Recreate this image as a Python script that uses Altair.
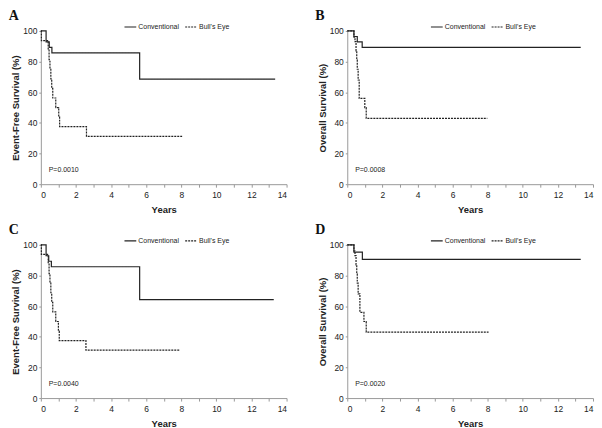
import altair as alt
import pandas as pd

groups = ["Conventional", "Bull's Eye"]

# Panel A: event-free survival
a_conv_t = [0, 0.30, 0.48, 0.63, 5.63, 13.35]
a_conv_s = [100, 92.9, 89.3, 85.7, 68.6, 68.6]
a_be_t = [0, 0.03, 0.42, 0.47, 0.52, 0.57, 0.62, 0.68, 0.85, 1.02, 1.07, 2.6, 8.05]
a_be_s = [100, 93.75, 87.5, 81.25, 75, 68.75, 62.5, 56.25, 50, 43.75, 37.5, 31.25, 31.25]

# Panel B: overall survival
b_conv_t = [0, 0.38, 0.57, 0.85, 13.3]
b_conv_s = [100, 96.4, 92.9, 89.3, 89.3]
b_be_t = [0, 0.38, 0.44, 0.5, 0.54, 0.57, 0.62, 0.68, 1.0, 1.08, 7.98]
b_be_s = [100, 96, 93, 87, 81, 75, 68, 56, 50, 43, 43]

# Panel C: event-free survival
c_conv_t = [0, 0.30, 0.45, 0.6, 5.63, 13.27]
c_conv_s = [100, 92.9, 89.3, 85.7, 64.3, 64.3]
c_be_t = [0, 0.03, 0.42, 0.47, 0.52, 0.57, 0.62, 0.68, 0.85, 1.0, 1.05, 2.57, 7.9]
c_be_s = [100, 93.75, 87.5, 81.25, 75, 68.75, 62.5, 56.25, 50, 43.75, 37.5, 31.25, 31.25]

# Panel D: overall survival
d_conv_t = [0, 0.38, 0.86, 13.3]
d_conv_s = [100, 95.2, 90.5, 90.5]
d_be_t = [0, 0.38, 0.44, 0.5, 0.54, 0.57, 0.62, 0.72, 0.95, 1.08, 8.05]
d_be_s = [100, 96, 93, 87, 81, 75, 68, 56, 50, 43, 43]

letters = ["A", "B", "C", "D"]
y_titles = ["Event-Free Survival (%)", "Overall Survival (%)",
            "Event-Free Survival (%)", "Overall Survival (%)"]
p_values = ["P=0.0010", "P=0.0008", "P=0.0040", "P=0.0020"]
p_anchor_t = [0.45]
p_anchor_s = [9]
x_ticks = list(range(15))
y_ticks = [0, 20, 40, 60, 80, 100]

FONT = "Liberation Sans"
INK = "#222222"


def make_panel(letter, ytitle, pval, ct, cs, bt, bs):
    df = pd.concat([
        pd.DataFrame({"t": ct, "s": cs, "group": groups[0]}),
        pd.DataFrame({"t": bt, "s": bs, "group": groups[1]}),
    ])
    x_enc = alt.X("t:Q", scale=alt.Scale(domain=[0, 14], nice=False),
                  axis=alt.Axis(title="Years", values=x_ticks, labelOverlap=False,
                                labelExpr="datum.value % 2 == 0 ? datum.label : ''",
                                tickSize=3, labelPadding=3, titlePadding=6, titleFontSize=9.5))
    y_enc = alt.Y("s:Q", scale=alt.Scale(domain=[0, 100], nice=False),
                  axis=alt.Axis(title=ytitle, values=y_ticks, labelOverlap=False,
                                tickSize=2, labelPadding=2, titlePadding=2))
    lines = alt.Chart(df).mark_line(interpolate="step-after", strokeWidth=1.2, color=INK).encode(
        x=x_enc,
        y=y_enc,
        strokeDash=alt.StrokeDash(
            "group:N",
            scale=alt.Scale(domain=groups, range=[[1, 0], [2, 1]]),
            legend=alt.Legend(orient="none", legendX=83, legendY=-11, direction="horizontal",
                              title=None, symbolType="stroke", symbolStrokeColor=INK,
                              symbolStrokeWidth=1.2, symbolSize=140, labelFontSize=7,
                              labelFont=FONT, labelColor=INK,
                              columnPadding=3, labelOffset=1),
        ),
        detail="group:N",
    )
    ptext = alt.Chart(pd.DataFrame({"t": p_anchor_t, "s": p_anchor_s, "label": [pval]})).mark_text(
        align="left", baseline="middle", fontSize=7, font=FONT, color=INK
    ).encode(x=x_enc, y=y_enc, text="label:N")
    return alt.layer(lines, ptext).properties(
        width=247, height=154,
        title=alt.TitleParams(letter, anchor="start", font="Liberation Serif", fontSize=14,
                              fontWeight="bold", color="#111111", offset=-3, dx=-2),
    )


panels = [
    make_panel(letters[0], y_titles[0], p_values[0], a_conv_t, a_conv_s, a_be_t, a_be_s),
    make_panel(letters[1], y_titles[1], p_values[1], b_conv_t, b_conv_s, b_be_t, b_be_s),
    make_panel(letters[2], y_titles[2], p_values[2], c_conv_t, c_conv_s, c_be_t, c_be_s),
    make_panel(letters[3], y_titles[3], p_values[3], d_conv_t, d_conv_s, d_be_t, d_be_s),
]

chart = alt.vconcat(
    alt.hconcat(panels[0], panels[1], spacing=27).resolve_legend(strokeDash="independent").resolve_scale(strokeDash="independent"),
    alt.hconcat(panels[2], panels[3], spacing=27).resolve_legend(strokeDash="independent").resolve_scale(strokeDash="independent"),
    spacing=9,
).resolve_legend(strokeDash="independent").resolve_scale(strokeDash="independent").properties(
    padding=0, background="white"
).configure_view(stroke=None).configure_axis(
    grid=False, domainColor="#999999", tickColor="#999999", labelFont=FONT, labelFontSize=8.5,
    labelColor=INK, titleFont=FONT, titleFontSize=9.5, titleFontWeight="bold", titleColor=INK,
    labelOverlap=False,
)

chart.save("out.html", embed_options={"renderer": "svg", "actions": False})
